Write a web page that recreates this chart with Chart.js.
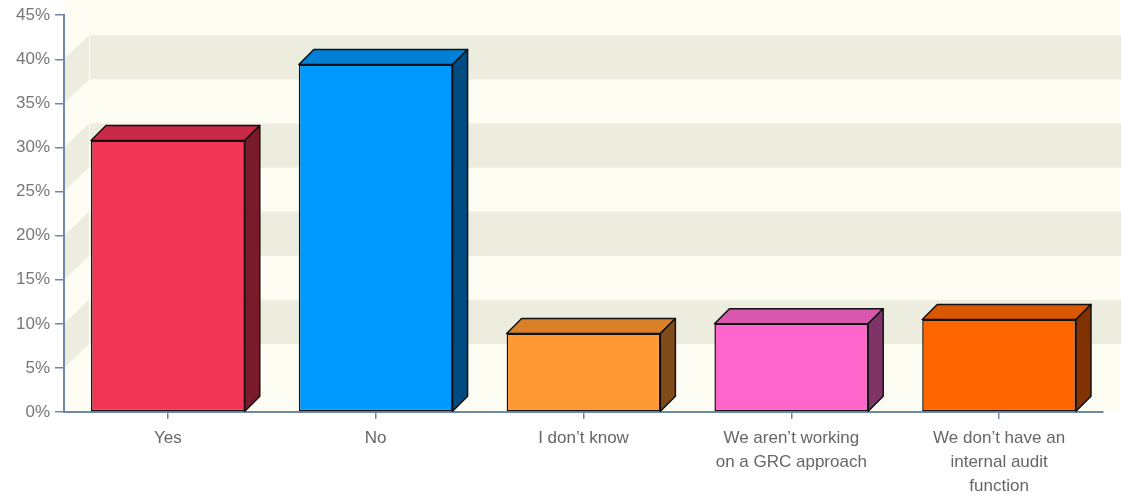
<!DOCTYPE html>
<html>
<head>
<meta charset="utf-8">
<script src="https://cdn.jsdelivr.net/npm/chart.js@4/dist/chart.umd.min.js"></script>
<style>
  html, body { margin: 0; padding: 0; background: #fff; }
  #wrap { width: 1121px; height: 500px; }
</style>
</head>
<body>
<div id="wrap"><canvas id="grcChart"></canvas></div>
<script>
// data
var categories = [
  'Yes',
  'No',
  'I don’t know',
  ['We aren’t working', 'on a GRC approach'],
  ['We don’t have an', 'internal audit', 'function']
];
var percents = [30.8, 39.4, 8.9, 10.0, 10.5];
var yTicks = [0, 5, 10, 15, 20, 25, 30, 35, 40, 45];
var shadedBands = [5, 15, 25, 35]; // each band is 5 points tall

// colours
var frontColors = ['#F23455', '#0099FF', '#FF9933', '#FF66CC', '#FF6600'];
var topColors = ['#C92A47', '#0080D4', '#D98029', '#D957AD', '#D95700'];
var sideColors = ['#7A1A2B', '#004C80', '#7F4C19', '#803366', '#803300'];
var axisColor = '#6D88A9';
var cream = '#FDFDF3';
var band = '#ECECDF';

var WALL_DX = 25, WALL_DY = -24, BAR_D = 15;

var backdrop = {
  id: 'backdrop',
  beforeDraw: function(chart) {
    var ctx = chart.ctx, a = chart.chartArea, ys = chart.scales.y;
    var W = chart.width;
    ctx.save();
    ctx.fillStyle = '#fff';
    ctx.fillRect(0, 0, W, chart.height);
    ctx.fillStyle = cream;
    ctx.fillRect(a.left, 0, W - a.left, a.bottom);
    ctx.fillStyle = band;
    shadedBands.forEach(function(v) {
      var y1 = ys.getPixelForValue(v + 5), y2 = ys.getPixelForValue(v);
      // back wall
      ctx.fillRect(a.left + WALL_DX, y1 + WALL_DY, W, y2 - y1);
      // side wall
      ctx.beginPath();
      ctx.moveTo(a.left, y1);
      ctx.lineTo(a.left + WALL_DX, y1 + WALL_DY);
      ctx.lineTo(a.left + WALL_DX, y2 + WALL_DY);
      ctx.lineTo(a.left, y2);
      ctx.closePath();
      ctx.fill();
    });
    ctx.strokeStyle = '#fff';
    ctx.lineWidth = 1;
    ctx.beginPath();
    ctx.moveTo(a.left + WALL_DX + 0.5, 0);
    ctx.lineTo(a.left + WALL_DX + 0.5, a.bottom + WALL_DY);
    ctx.stroke();
    ctx.restore();
  }
};

var bars3d = {
  id: 'bars3d',
  afterDatasetsDraw: function(chart) {
    var ctx = chart.ctx;
    var meta = chart.getDatasetMeta(0);
    ctx.save();
    ctx.strokeStyle = '#111';
    ctx.lineWidth = 1.5;
    ctx.lineJoin = 'round';
    meta.data.forEach(function(bar, i) {
      var p = bar.getProps(['x', 'y', 'base', 'width'], true);
      var l = p.x - p.width / 2, r = p.x + p.width / 2;
      // top face
      ctx.fillStyle = topColors[i];
      ctx.beginPath();
      ctx.moveTo(l, p.y);
      ctx.lineTo(l + BAR_D, p.y - BAR_D);
      ctx.lineTo(r + BAR_D, p.y - BAR_D);
      ctx.lineTo(r, p.y);
      ctx.closePath();
      ctx.fill();
      ctx.stroke();
      // side face
      ctx.fillStyle = sideColors[i];
      ctx.beginPath();
      ctx.moveTo(r, p.y);
      ctx.lineTo(r + BAR_D, p.y - BAR_D);
      ctx.lineTo(r + BAR_D, p.base - BAR_D);
      ctx.lineTo(r, p.base);
      ctx.closePath();
      ctx.fill();
      ctx.stroke();
    });
    ctx.restore();
  }
};

var ctx = document.getElementById('grcChart');
var grcChart = new Chart(ctx, {
  type: 'bar',
  data: {
    labels: categories,
    datasets: [{
      data: percents,
      backgroundColor: frontColors,
      borderColor: '#111',
      borderWidth: 1.5,
      borderSkipped: false,
      categoryPercentage: 1,
      barPercentage: 0.74
    }]
  },
  options: {
    responsive: true,
    maintainAspectRatio: false,
    animation: false,
    events: [],
    layout: { padding: { top: 12, right: 18, left: 0, bottom: 0 } },
    plugins: { legend: { display: false }, tooltip: { enabled: false } },
    scales: {
      x: {
        grid: { drawOnChartArea: false, offset: false, color: axisColor, tickLength: 7, lineWidth: 1.5 },
        border: { color: axisColor, width: 2 },
        ticks: { color: '#666', font: { family: 'Liberation Sans', size: 17, lineHeight: 1.42 }, padding: 7, maxRotation: 0, autoSkip: false },
        afterFit: function(s) { s.height = 88; }
      },
      y: {
        min: 0,
        max: 45,
        afterBuildTicks: function(s) { s.ticks = yTicks.map(function(v) { return { value: v }; }); },
        grid: { drawOnChartArea: false, color: axisColor, tickLength: 9, lineWidth: 1.5 },
        border: { color: axisColor, width: 2 },
        ticks: {
          color: '#777',
          font: { family: 'Liberation Sans', size: 17 },
          padding: 5,
          callback: function(v) { return v + '%'; }
        },
        afterFit: function(s) { s.width = 64; }
      }
    }
  },
  plugins: [backdrop, bars3d]
});
</script>
</body>
</html>
